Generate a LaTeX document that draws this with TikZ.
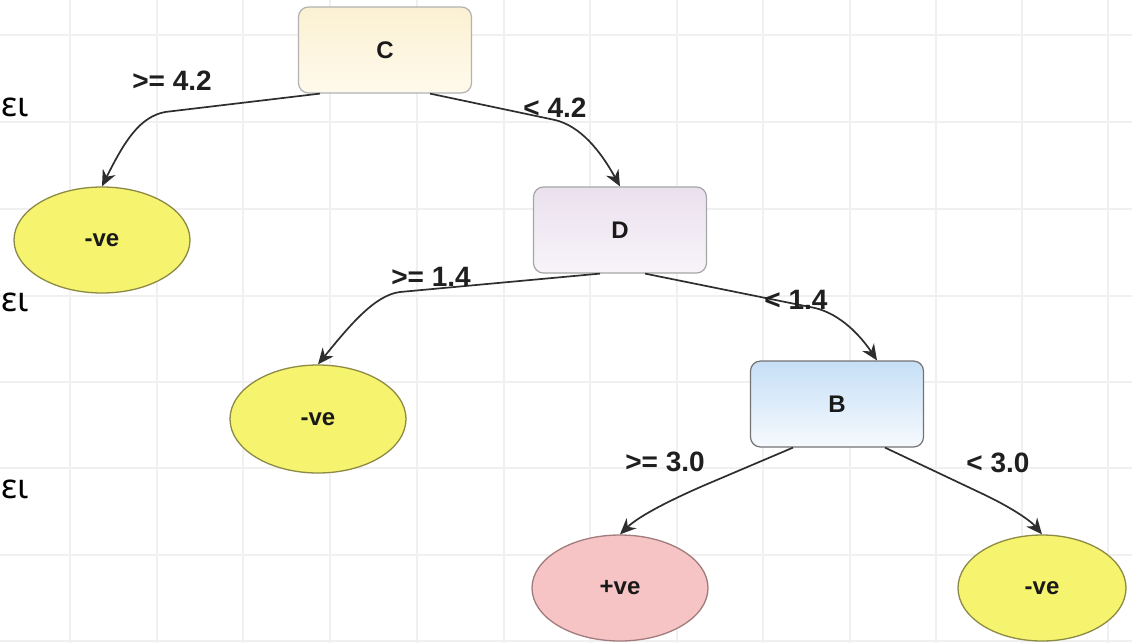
\documentclass[tikz,border=0pt]{standalone}
\usepackage{fontspec}
\setmainfont{Liberation Sans}
\newfontfamily\greekfont{Noto Sans}
\usetikzlibrary{shapes.geometric,arrows.meta}

\tikzset{
  grid line/.style={draw=black!6, line width=1.2pt},
  test/.style={draw=#1, rounded corners=10pt, minimum width=173pt, minimum height=86pt,
    line width=1.2pt, font=\fontsize{24}{24}\selectfont\bfseries, text=black!90},
  leaf/.style={ellipse, draw=#1, line width=1.3pt, minimum width=176pt, minimum height=106pt,
    font=\fontsize{24}{24}\selectfont\bfseries, text=black!90, inner sep=0pt},
  branch/.style={draw=black!82, line width=1.7pt, -{Stealth[length=16pt,width=14pt]}},
  cond/.style={font=\fontsize{28}{28}\selectfont\bfseries, text=black!88, inner sep=0pt},
  side/.style={font=\fontsize{34}{34}\selectfont\greekfont, anchor=base west, inner sep=0pt},
}
\definecolor{yelfill}{HTML}{F6F36E}
\definecolor{yeledge}{HTML}{8C8A45}
\definecolor{pinkfill}{HTML}{F6C4C4}
\definecolor{pinkedge}{HTML}{A07C7C}

\begin{document}
\begin{tikzpicture}[x=1pt, y=-1pt]
  \useasboundingbox (0,0) rectangle (1132,643);
  \fill[white] (0,0) rectangle (1132,643);

  % background grid
  \foreach \gx in {70,157,243,330,417,504,590,677,763,850,936,1022,1108}
    \draw[grid line] (\gx,0) -- (\gx,643);
  \foreach \gy in {35,122,209,296,382,468,555,641}
    \draw[grid line] (0,\gy) -- (1132,\gy);

  % test nodes
  \node[test=black!30, top color={rgb,255:red,251;green,240;blue,210}, bottom color={rgb,255:red,255;green,250;blue,236}] (C) at (385,50) {C};
  \node[test=black!35, top color={rgb,255:red,234;green,224;blue,238}, bottom color={rgb,255:red,248;green,244;blue,249}] (D) at (620,230) {D};
  \node[test=black!55, top color={rgb,255:red,198;green,223;blue,246}, bottom color={rgb,255:red,246;green,250;blue,254}] (B) at (837,404) {B};

  % leaves
  \node[leaf=yeledge, fill=yelfill] (L1) at (102,240) {-ve};
  \node[leaf=yeledge, fill=yelfill, minimum height=108pt] (L2) at (318,419) {-ve};
  \node[leaf=pinkedge, fill=pinkfill] (P) at (620,588) {+ve};
  \node[leaf=yeledge, fill=yelfill, minimum width=168pt] (R) at (1042,588) {-ve};

  % branches
  \draw[branch] ([xshift=-65pt]C.south) -- (165,112) .. controls (140,117) and (125,140) .. (L1.north);
  \draw[branch] ([xshift=45pt]C.south) -- (555,120) .. controls (580,126) and (600,150) .. (D.north);
  \draw[branch] ([xshift=-20pt]D.south) -- (400,292) .. controls (375,295) and (350,325) .. (L2.north);
  \draw[branch] ([xshift=25pt]D.south) -- (815,308) .. controls (840,314) and (860,335) .. ([xshift=40pt]B.north);
  \draw[branch] ([xshift=-44pt]B.south) -- (705,485) .. controls (675,498) and (640,515) .. (P.north);
  \draw[branch] ([xshift=48pt]B.south) -- (985,495) .. controls (1010,507) and (1030,520) .. (R.north);

  % branch conditions
  \node[cond] (c1) at (172,81) {>= 4.2};
  \node[cond] (c2) at (555,108) {< 4.2};
  \node[cond] (c3) at (431,277) {>= 1.4};
  \node[cond] (c4) at (796,300) {< 1.4};
  \node[cond] (c5) at (665,462) {>= 3.0};
  \node[cond] (c6) at (998,463) {< 3.0};

  % side marks
  \node[side] (s1) at (1,116) {ει};
  \node[side] (s2) at (1,311) {ει};
  \node[side] (s3) at (1,498) {ει};
\end{tikzpicture}
\end{document}
